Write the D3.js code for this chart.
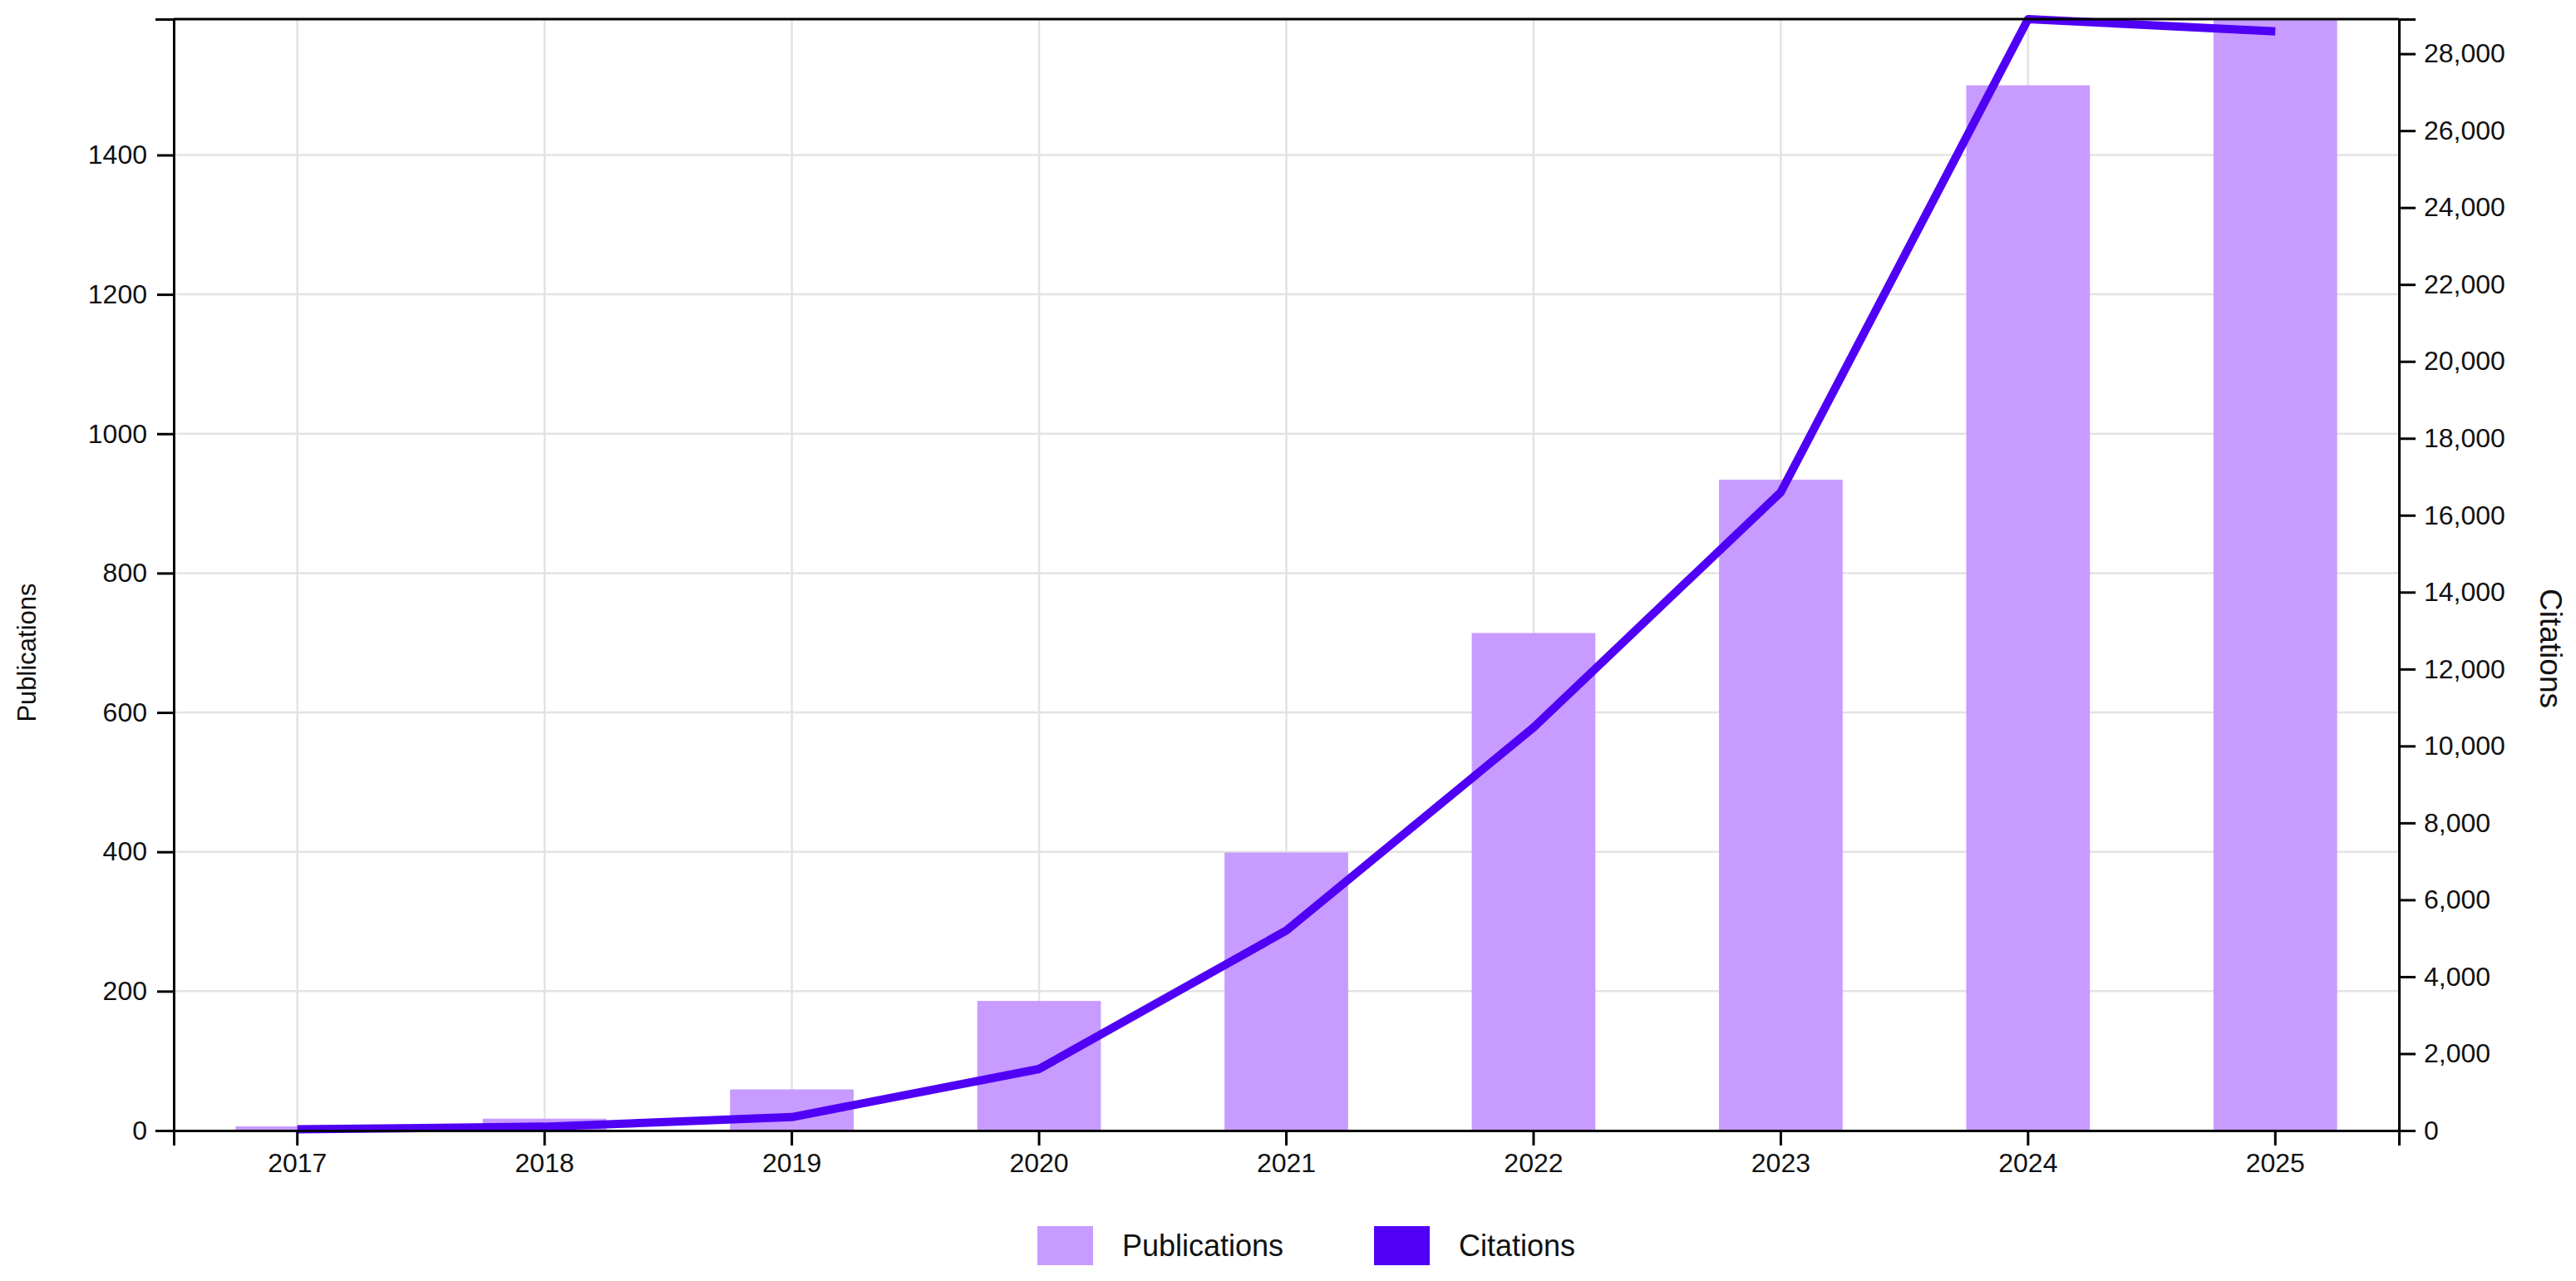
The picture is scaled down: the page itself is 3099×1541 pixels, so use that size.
<!DOCTYPE html>
<html>
<head>
<meta charset="utf-8">
<script src="https://cdn.jsdelivr.net/npm/d3@7"></script>
<style>
  html, body { margin: 0; padding: 0; background: #fff; }
  svg { display: block; font-family: "Liberation Sans", Arial, sans-serif; }
</style>
</head>
<body>
<svg id="chart" width="3099" height="1541"></svg>
<script>
const years = ["2017", "2018", "2019", "2020", "2021", "2022", "2023", "2024", "2025"];
const publications = [6, 17, 59, 186, 399, 714, 934, 1500, 1595];
const citations = [30, 100, 350, 1600, 5200, 10480, 16600, 28900, 28580];
const pubTicks = [0, 200, 400, 600, 800, 1000, 1200, 1400];
const citTicks = [0, 2000, 4000, 6000, 8000, 10000, 12000, 14000, 16000, 18000, 20000, 22000, 24000, 26000, 28000];
const seriesNames = ["Publications", "Citations"];
const colors = ["#c79bff", "#5000f5"];

const W = 3099, H = 1541;
const m = { left: 209, right: 2886, top: 23, bottom: 1360 };
const svg = d3.select("#chart");

const x = d3.scaleBand().domain(years).range([m.left, m.right]).paddingInner(0.5).paddingOuter(0.25);
const yL = d3.scaleLinear().domain([0, d3.max(publications)]).range([m.bottom, m.top]);
const yR = d3.scaleLinear().domain([0, d3.max(citations)]).range([m.bottom, m.top]);

// grid
const grid = svg.append("g").attr("stroke", "#e3e3e3").attr("stroke-width", 2.5);
grid.selectAll("line.h").data(pubTicks.filter(d => d > 0)).join("line")
  .attr("x1", m.left).attr("x2", m.right)
  .attr("y1", d => yL(d)).attr("y2", d => yL(d));
grid.selectAll("line.v").data(years).join("line")
  .attr("x1", d => x(d) + x.bandwidth() / 2).attr("x2", d => x(d) + x.bandwidth() / 2)
  .attr("y1", m.top).attr("y2", m.bottom);

// bars
svg.append("g").selectAll("rect").data(years).join("rect")
  .attr("x", d => x(d))
  .attr("width", x.bandwidth())
  .attr("y", (d, i) => yL(publications[i]))
  .attr("height", (d, i) => m.bottom - yL(publications[i]))
  .attr("fill", colors[0]);

// line
const line = d3.line()
  .x((d, i) => x(years[i]) + x.bandwidth() / 2)
  .y(d => yR(d));
svg.append("path").datum(citations)
  .attr("d", line)
  .attr("fill", "none")
  .attr("stroke", colors[1])
  .attr("stroke-width", 10)
  .attr("stroke-linejoin", "round");

function styleAxis(g) {
  g.selectAll(".domain").attr("stroke", "#000").attr("stroke-width", 3);
  g.selectAll(".tick line").attr("stroke", "#000").attr("stroke-width", 3);
  g.selectAll(".tick text").attr("fill", "#111").attr("font-size", 32)
    .attr("font-family", "'Liberation Sans', Arial, sans-serif");
}

// top border
svg.append("line").attr("x1", m.left).attr("x2", m.right).attr("y1", m.top).attr("y2", m.top)
  .attr("stroke", "#000").attr("stroke-width", 3);

// x axis
const xAxis = svg.append("g").attr("transform", `translate(0,${m.bottom})`)
  .call(d3.axisBottom(x).tickSize(18).tickSizeOuter(18).tickPadding(8));
styleAxis(xAxis);
xAxis.selectAll(".tick text").attr("dy", "0.75em");

// left axis
const lAxis = svg.append("g").attr("transform", `translate(${m.left},0)`)
  .call(d3.axisLeft(yL).tickValues(pubTicks).tickFormat(d3.format("d")).tickSize(20).tickSizeOuter(22).tickPadding(12));
styleAxis(lAxis);

// right axis
const rAxis = svg.append("g").attr("transform", `translate(${m.right},0)`)
  .call(d3.axisRight(yR).tickValues(citTicks).tickFormat(d3.format(",")).tickSize(20).tickSizeOuter(20).tickPadding(10));
styleAxis(rAxis);

// axis titles
svg.append("text")
  .attr("transform", `translate(32,785) rotate(-90)`)
  .attr("text-anchor", "middle").attr("dominant-baseline", "central")
  .attr("font-size", 31).attr("fill", "#111").text("Publications");
svg.append("text")
  .attr("transform", `translate(3068,780) rotate(90)`)
  .attr("text-anchor", "middle").attr("dominant-baseline", "central")
  .attr("font-size", 37).attr("fill", "#111").text("Citations");

// legend
const legX = [1248, 1653];
const leg = svg.append("g");
seriesNames.forEach((name, i) => {
  leg.append("rect").attr("x", legX[i]).attr("y", 1475).attr("width", 67).attr("height", 47).attr("fill", colors[i]);
  leg.append("text").attr("x", legX[i] + 102).attr("y", 1511)
    .attr("font-size", 36).attr("fill", "#111").text(name);
});
</script>
</body>
</html>
